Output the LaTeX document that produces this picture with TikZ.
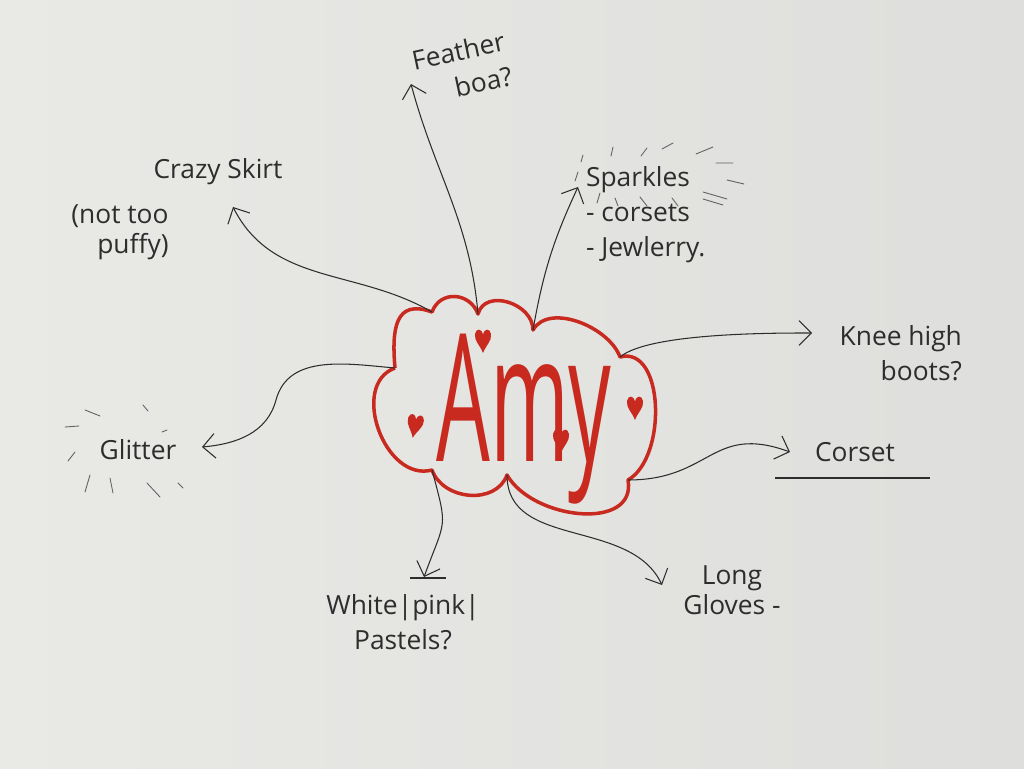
\documentclass[tikz,border=0pt]{standalone}
\usepackage{fontspec}
\setmainfont{Open Sans}
\usepackage{graphicx}
\usetikzlibrary{arrows.meta}
\definecolor{paperl}{RGB}{233,233,230}
\definecolor{paperr}{RGB}{222,223,220}
\definecolor{ink}{RGB}{45,45,45}
\definecolor{amyred}{RGB}{200,42,32}

\tikzset{
  note/.style={text=ink, font=\fontsize{15}{20}\selectfont, inner sep=1pt},
  link/.style={draw=ink, line width=0.6pt, -{Straight Barb[length=7pt,width=14pt]}},
  flick/.style={draw=ink!75, line width=0.5pt, line cap=round},
  heart/.pic={
    \fill[amyred] (0,-13) .. controls (-3,-5) and (-9,-1) .. (-8,6)
      .. controls (-7,12) and (-1,12) .. (0,5)
      .. controls (1,12) and (7,12) .. (8,6)
      .. controls (9,-1) and (3,-5) .. (0,-13) -- cycle;
  }
}

\begin{document}
\begin{tikzpicture}[x=0.02cm,y=0.02cm]
  % paper
  \shade[left color=paperl, right color=paperr] (0,0) rectangle (1024,768);
  \useasboundingbox (0,0) rectangle (1024,768);

  % the cloud
  \draw[amyred, line width=2pt, line join=round]
    (395,400) coordinate (ca)
      to[out=95,in=160,looseness=1.5] (432,456) coordinate (cb)
      to[out=70,in=110,looseness=1.3] (478,454) coordinate (cc)
      to[out=75,in=90,looseness=1.2] (533,438) coordinate (cd)
      to[out=60,in=110,looseness=0.9] (620,411) coordinate (ce)
      to[out=15,in=30,looseness=0.95] (628,288) coordinate (cf)
      to[out=-80,in=-60,looseness=1.1] (507,293) coordinate (cg)
      to[out=-110,in=-70,looseness=1.1] (432,298) coordinate (ch)
      to[out=195,in=200,looseness=1.15] (ca);

  \node[amyred, anchor=base] (amy) at (524,306)
    {\scalebox{1.05}[2.2]{\fontsize{46}{46}\selectfont Amy}};

  % hearts
  \pic at (483,428) {heart};
  \pic[rotate=-10] at (415,343) {heart};
  \pic at (561,328) {heart};
  \pic at (635,361) {heart};

  % labels
  \node[note, rotate=12, align=right] (boa) at (462,700) {Feather\\boa?};
  \node[note] (skirt) at (218,596) {Crazy Skirt};
  \node[note, align=right] (puffy) at (120,536) {(not too\\[-3pt]puffy)};
  \node[note, align=left, anchor=west] (sparkles) at (584,553)
    {Sparkles\\- corsets\\- Jewlerry.};
  \node[note, align=right, anchor=east] (knee) at (964,415) {Knee high\\boots?};
  \node[note] (corset) at (855,316) {Corset};
  \node[note, align=center] (gloves) at (732,178) {Long\\[-3pt]Gloves -};
  \node[note, align=center] (pastels) at (403,146) {White|pink|\\Pastels?};
  \node[note] (glitter) at (138,318) {Glitter};

  % arrow tips
  \coordinate (boatip) at (411,684);
  \coordinate (skirttip) at (233,561);
  \coordinate (sparktip) at (578,581);
  \coordinate (kneetip) at (812,435);
  \coordinate (corsettip) at (790,316);
  \coordinate (glovestip) at (662,183);
  \coordinate (pasteltip) at (424,191);
  \coordinate (glittertip) at (202,321);

  % connectors
  \draw[link] (cc) to[out=95,in=-75] (boatip);
  \draw[link] (cb) to[out=150,in=-63] (skirttip);
  \draw[link] (cd) to[out=80,in=-115] (sparktip);
  \draw[link] (ce) to[out=40,in=180,looseness=0.5] (kneetip);
  \draw[link] (cf) to[out=0,in=160,looseness=1.3] (corsettip);
  \draw[link] (cg) to[out=-90,in=115] (glovestip);
  \draw[link] (ch) to[out=-75,in=70,looseness=1.5] (pasteltip);
  \draw[link] (ca) to[out=175,in=75] (276,368) to[out=-105,in=5] (glittertip);

  % underline and bar
  \draw[ink, line width=0.6pt] (775,290) -- (930,290);
  \draw[ink, line width=0.6pt] (410,190) -- (446,190);

  % sparkle flicks
  \draw[flick] (583,613) -- (581,606)  (613,621) -- (611,612)
    (647,620) -- (641,612)  (673,625) -- (662,619)  (713,621) -- (696,614)
    (733,605) -- (716,605)  (744,584) -- (727,588)  (727,569) -- (703,576)
    (723,563) -- (703,569)  (600,575) -- (597,565)  (615,570) -- (618,562)
    (640,571) -- (647,562)  (672,570) -- (678,562)  (578,596) -- (575,587);
  % glitter flicks
  \draw[flick] (85,358) -- (100,352)  (65,341) -- (79,342)
    (143,363) -- (148,357)  (162,336) -- (167,338)  (75,316) -- (68,307)
    (90,293) -- (85,276)  (110,290) -- (113,275)  (147,285) -- (160,271)
    (178,285) -- (183,280);
\end{tikzpicture}
\end{document}
